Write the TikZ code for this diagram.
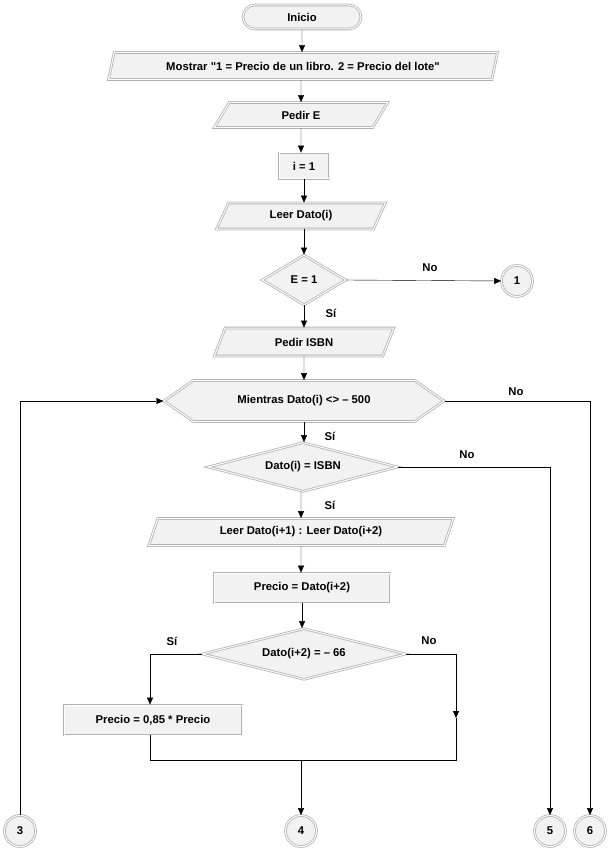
\documentclass[tikz,border=0pt]{standalone}
\usepackage{fontspec}
\setmainfont{Liberation Sans}
\usetikzlibrary{arrows.meta,positioning,shapes.geometric,shapes.misc,shapes.symbols}

\begin{document}
\begin{tikzpicture}[x=1pt,y=-1pt,
  font=\bfseries\fontsize{11.3}{13}\selectfont,
  box/.style={draw=gray!60,line width=0.8pt,double=white,double distance=1pt,fill=gray!10,inner sep=0pt},
  term/.style={box,rounded rectangle,minimum width=118pt,minimum height=24pt},
  io/.style={box,trapezium,trapezium left angle=64,trapezium right angle=116,trapezium stretches=true},
  proc/.style={box,rectangle},
  dec/.style={box,diamond,aspect=4},
  loopbox/.style={box,signal,signal to=west and east,signal pointer angle=70},
  conn/.style={box,circle,minimum size=31pt},
  flow/.style={-{Triangle[length=7pt,width=6pt]},black},
  lbl/.style={inner sep=0pt}]
\useasboundingbox (0,0) rectangle (613,850);
% main column
\node[term] (inicio) at (302,17) {Inicio};
\node[io,minimum width=390pt,minimum height=27pt] (mostrar) at (303,66) {Mostrar \textquotedbl 1 = Precio de un libro. 2 = Precio del lote\textquotedbl};
\node[io,minimum width=174pt,minimum height=25pt] (pedirE) at (301,115) {Pedir E};
\node[proc,minimum width=50pt,minimum height=26pt] (ini) at (304,166) {i = 1};
\node[io,minimum width=170pt,minimum height=26pt] (leer) at (301,216) {Leer Dato(i)};
\node[dec,minimum width=84pt,minimum height=50pt] (e1) at (304,280) {E = 1};
\node[conn] (c1) at (517,281) {1};
\node[io,minimum width=180pt,minimum height=28pt] (pedirisbn) at (304,342) {Pedir ISBN};
\node[loopbox,minimum width=280pt,minimum height=41pt] (mientras) at (304,401) {Mientras Dato(i) <> -- 500};
\node[dec,minimum width=190pt,minimum height=49pt] (datoisbn) at (303,467) {Dato(i) = ISBN};
\node[io,minimum width=305pt,minimum height=27pt] (leer2) at (301,532) {Leer Dato(i+1) : Leer Dato(i+2)};
\node[proc,minimum width=176pt,minimum height=30pt] (precio) at (302,588) {Precio = Dato(i+2)};
\node[dec,minimum width=204pt,minimum height=51pt] (dato66) at (304,654) {Dato(i+2) = -- 66};
\node[proc,minimum width=178pt,minimum height=30pt] (precio85) at (153,720) {Precio = 0,85 * Precio};
% connectors
\node[conn] (c3) at (20,831) {3};
\node[conn] (c4) at (301,831) {4};
\node[conn] (c5) at (550,831) {5};
\node[conn] (c6) at (590,831) {6};
\coordinate (rr) at (456,718);
\coordinate (jl) at (150,760);
\coordinate (jr) at (456,760);
\coordinate (jm) at (301,760);
% flow lines
\draw[flow] (inicio) -- (inicio |- mostrar.north);
\draw[flow] (mostrar.south -| pedirE) -- (pedirE.north);
\draw[flow] (pedirE) -- (pedirE |- ini.north);
\draw[flow] (ini) -- (ini |- leer.north);
\draw[flow] (leer.south -| e1) -- (e1.north);
\draw[flow] (e1.east) -- (c1.west);
\draw[flow] (e1.south) -- (e1 |- pedirisbn.north);
\draw[flow] (pedirisbn) -- (mientras.north);
\draw[flow] (mientras.south) -- (mientras |- datoisbn.north);
\draw[flow] (datoisbn.south -| leer2) -- (leer2.north);
\draw[flow] (leer2) -- (precio.north -| leer2);
\draw[flow] (precio.south) -- (precio |- dato66.north);
\draw[flow] (dato66.west) -| (precio85.north -| jl);
\draw[flow] (dato66.east) -| (rr);
\draw (rr) -- (jr) -- (jl) -- (precio85.south -| jl);
\draw[flow] (jm) -- (c4.north);
\draw[flow] (mientras.east) -| (c6.north);
\draw[flow] (datoisbn.east) -| (c5.north);
\draw[flow] (c3.north) |- (mientras.west);
% labels
\node[lbl] (no1) at (430,268) {No};
\node[lbl] (si1) at (331,313) {Sí};
\node[lbl] (no2) at (516,392) {No};
\node[lbl] (si2) at (330,436) {Sí};
\node[lbl] (no3) at (467,455) {No};
\node[lbl] (si3) at (330,505) {Sí};
\node[lbl] (si4) at (172,641) {Sí};
\node[lbl] (no4) at (429,641) {No};
\end{tikzpicture}
\end{document}
